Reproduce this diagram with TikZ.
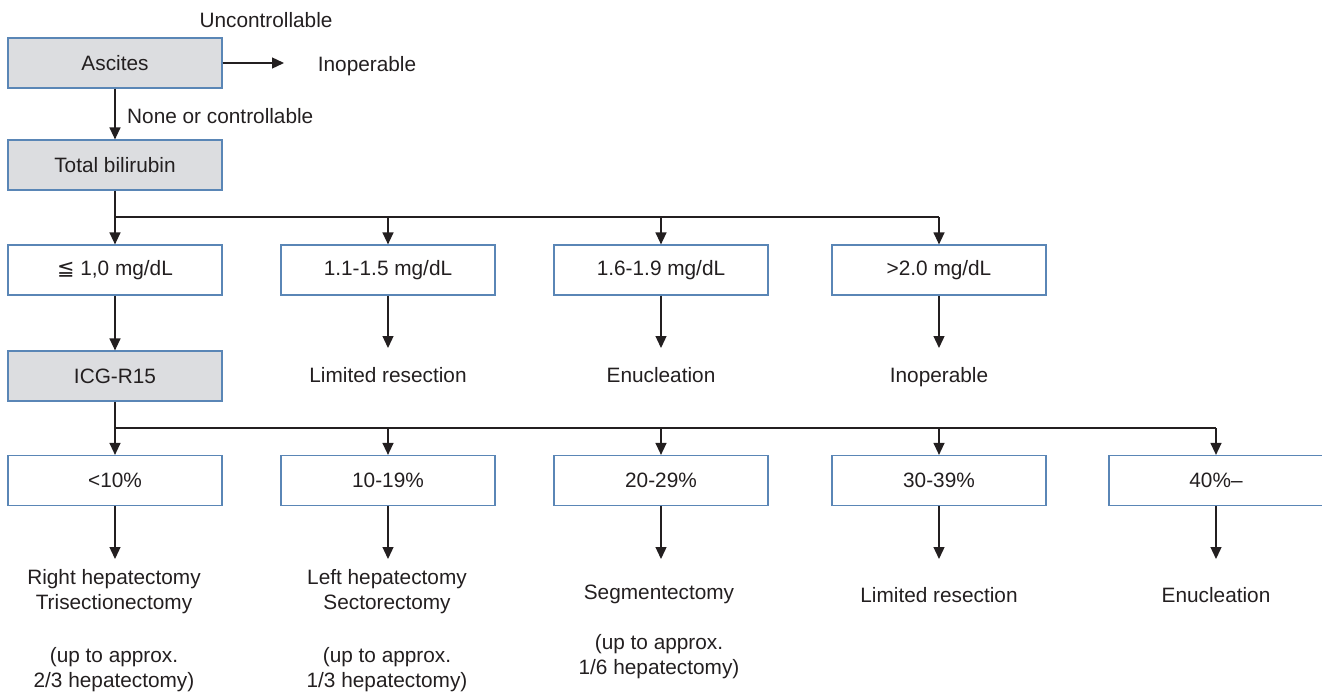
\documentclass[tikz,border=0pt]{standalone}
\usepackage{fontspec}
\setmainfont{Liberation Sans}
\newfontfamily\symfont{DejaVu Sans}
\usetikzlibrary{arrows.meta}
\definecolor{ink}{HTML}{231F20}
\definecolor{frame}{HTML}{5A86B6}
\definecolor{shade}{HTML}{DCDDE0}

\begin{document}
\begin{tikzpicture}[x=1pt,y=-1pt,
  font=\fontsize{20.8}{25}\selectfont, text=ink,
  box/.style={draw=frame, line width=1.2pt, fill=white, minimum width=214pt, minimum height=50pt, inner sep=0pt},
  keybox/.style={box, fill=shade},
  ln/.style={draw=ink, line width=1.3pt},
  arr/.style={ln, -{Triangle[width=11pt,length=12pt]}},
  lbl/.style={inner sep=0pt, align=center},
  word/.style={inner sep=0pt, anchor=base}]
\useasboundingbox (0,0) rectangle (1322,693);

% levels used by connectors
\coordinate (ae)   at (284,0);   % end of the "uncontrollable" arrow
\coordinate (bus1) at (0,217);   % bilirubin branch line
\coordinate (ym)   at (0,348);   % arrow tips above row-2 outcomes
\coordinate (bus2) at (0,428);   % ICG branch line
\coordinate (yb)   at (0,559);   % arrow tips above final outcomes

% ascites
\node[keybox] (asc) at (115,63) {Ascites};
\node[word] (unc) at (266,27.5) {Uncontrollable};
\node[word] (inop0) at (367,71) {Inoperable};
\draw[arr] (asc.east) -- (asc.east -| ae);

% total bilirubin
\node[keybox] (bil) at (115,165) {Total bilirubin};
\draw[arr] (asc) -- (bil);
\node[word, anchor=base west] (none) at (127,123.5) {None or controllable};

% bilirubin classes
\node[box] (b1) at (115,270) {{\symfont ≦} 1,0 mg/dL};
\node[box] (b2) at (388,270) {1.1-1.5 mg/dL};
\node[box] (b3) at (661,270) {1.6-1.9 mg/dL};
\node[box] (b4) at (939,270) {>2.0 mg/dL};
\draw[ln] (bil) -- (bil.south |- bus1) -- (b4.north |- bus1);
\foreach \n in {b1,b2,b3,b4} \draw[arr] (\n.north |- bus1) -- (\n.north);

\node[word] (o2) at (388,382) {Limited resection};
\node[word] (o3) at (661,382) {Enucleation};
\node[word] (o4) at (939,382) {Inoperable};
\foreach \n in {b2,b3,b4} \draw[arr] (\n) -- (\n |- ym);

% ICG-R15
\node[keybox] (icg) at (115,376) {ICG-R15};
\draw[arr] (b1) -- (icg);

% ICG classes
\node[box] (r1) at (115,480.5) {<10\%};
\node[box] (r2) at (388,480.5) {10-19\%};
\node[box] (r3) at (661,480.5) {20-29\%};
\node[box] (r4) at (939,480.5) {30-39\%};
\node[box] (r5) at (1216,480.5) {40\%–};
\draw[ln] (icg) -- (icg.south |- bus2) -- (r5.north |- bus2);
\foreach \n in {r1,r2,r3,r4,r5} \draw[arr] (\n.north |- bus2) -- (\n.north);
\foreach \n in {r1,r2,r3,r4,r5} \draw[arr] (\n) -- (\n |- yb);

% final outcomes
\node[lbl] (t1) at (114,591.5) {Right hepatectomy\\Trisectionectomy};
\node[lbl] (n1) at (114,669.5) {(up to approx.\\2/3 hepatectomy)};
\node[lbl] (t2) at (387,591.5) {Left hepatectomy\\Sectorectomy};
\node[lbl] (n2) at (387,669.5) {(up to approx.\\1/3 hepatectomy)};
\node[word] (t3) at (659,599) {Segmentectomy};
\node[lbl] (n3) at (659,656.5) {(up to approx.\\1/6 hepatectomy)};
\node[word] (t4) at (939,602) {Limited resection};
\node[word] (t5) at (1216,602) {Enucleation};
\end{tikzpicture}
\end{document}
